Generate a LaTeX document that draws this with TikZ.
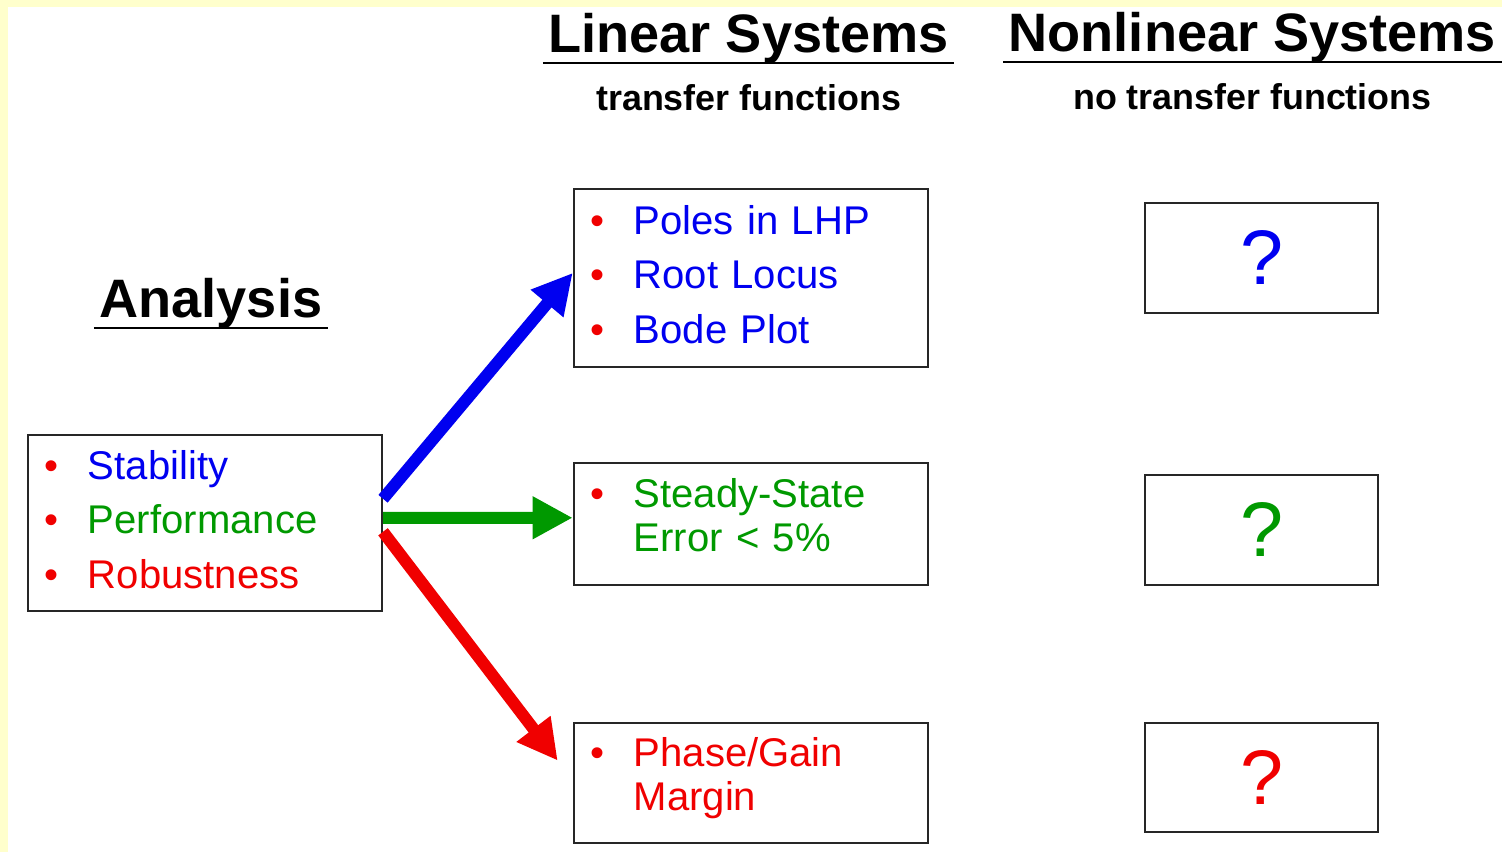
\documentclass[tikz,border=0pt]{standalone}
\usepackage{fontspec}
\setmainfont{Liberation Sans}
\usetikzlibrary{positioning, arrows.meta}
\definecolor{pyellow}{HTML}{FFFFCC}
\definecolor{pblue}{HTML}{0000F0}
\definecolor{pgreen}{HTML}{009900}
\definecolor{pred}{HTML}{F00000}
\newcommand{\itm}[1]{\textcolor{pred}{\textbullet} & #1}

\begin{document}
\begin{tikzpicture}[x=0.01cm, y=-0.01cm,
  head/.style={font=\fontsize{15.4}{18}\selectfont\bfseries, anchor=base, inner sep=0pt},
  sub/.style={font=\fontsize{10.2}{12}\selectfont\bfseries, anchor=base, inner sep=0pt},
  uline/.style={line width=0.025cm},
  listbox/.style={draw=black!85, line width=0.02cm, anchor=north west, minimum width=3.54cm,
    text width=3.2cm, inner xsep=0.17cm, inner ysep=0pt, align=left, font=\fontsize{11.4}{15.5}\selectfont},
  qbox/.style={draw=black!85, line width=0.02cm, anchor=north west, minimum width=2.33cm,
    minimum height=1.1cm, inner sep=0pt, font=\fontsize{22}{24}\selectfont},
  arr/.style={line width=0.12cm, -{Triangle[length=0.4cm, width=0.4cm]}}]
	\fill[pyellow] (0,0) rectangle (1503,852);
	\fill[white] (8,7) rectangle (1503,852);

	\node[head] (lin) at (749,53) {Linear Systems};
	\node[head] (nlin) at (1253,52) {Nonlinear Systems};
	\node[head] (ana) at (211,318) {Analysis};
	\node[sub] (tf) at (749,111) {transfer functions};
	\node[sub] (ntf) at (1253,110) {no transfer functions};
	\foreach \n in {lin,nlin,ana}
		\draw[uline] ([shift={(-0.05cm,-0.1cm)}]\n.base west) -- ([shift={(0.05cm,-0.1cm)}]\n.base east);

	\node[listbox, minimum height=1.76cm] (crit) at (27,434) {\begin{tabular}{@{}p{0.43cm}@{}l@{}}
			\itm{\textcolor{pblue}{Stability}}\\
			\itm{\textcolor{pgreen}{Performance}}\\
			\itm{\textcolor{pred}{Robustness}}
		\end{tabular}};
	\node[listbox, minimum height=1.78cm, text=pblue] (lhp) at (573,188) {\begin{tabular}{@{}p{0.43cm}@{}l@{}}
			\itm{Poles in LHP}\\
			\itm{Root Locus}\\
			\itm{Bode Plot}
		\end{tabular}};
	\node[listbox, minimum height=1.22cm, text=pgreen] (sse) at (573,462) {\raisebox{0.05cm}[\height][\depth]{\begin{tabular}{@{}p{0.43cm}@{}l@{}}
			\itm{Steady-State}\\[-3pt]
			& Error < 5\%
		\end{tabular}}};
	\node[listbox, minimum height=1.2cm, text=pred] (pgm) at (573,722) {\raisebox{0.05cm}[\height][\depth]{\begin{tabular}{@{}p{0.43cm}@{}l@{}}
			\itm{Phase/Gain}\\[-3pt]
			& Margin
		\end{tabular}}};

	\node[qbox, text=pblue] (q1) at (1145,202) {?};
	\node[qbox, text=pgreen] (q2) at (1145,474) {?};
	\node[qbox, text=pred, minimum height=1.09cm] (q3) at (1145,722) {?};

	\draw[arr, pblue] ([yshift=0.24cm]crit.east) -- ([yshift=0.05cm]lhp.west);
	\draw[arr, pgreen] ([yshift=0.05cm]crit.east) -- ([yshift=0.06cm]sse.west);
	\draw[arr, pred] ([yshift=-0.09cm]crit.east) -- ([xshift=-0.15cm, yshift=0.22cm]pgm.west);
\end{tikzpicture}
\end{document}
